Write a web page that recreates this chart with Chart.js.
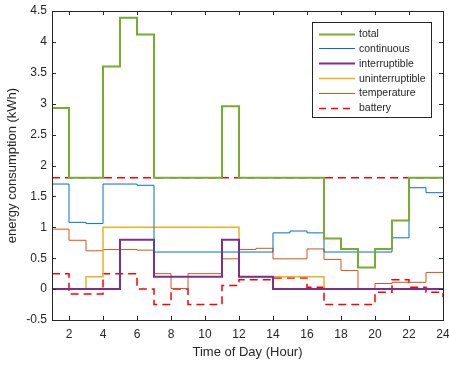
<!DOCTYPE html>
<html><head><meta charset="utf-8">
<script src="https://cdn.jsdelivr.net/npm/chart.js@4/dist/chart.umd.min.js"></script>
<style>html,body{margin:0;padding:0;background:#fff}#wrap{width:449px;height:370px}</style>
</head><body><div id="wrap"><canvas id="c" width="449" height="370"></canvas></div>
<script>
const hours = [1,2,3,4,5,6,7,8,9,10,11,12,13,14,15,16,17,18,19,20,21,22,23,24];
const total = [2.93,1.8,1.8,3.6,4.39,4.12,1.8,1.8,1.8,1.8,2.96,1.8,1.8,1.8,1.8,1.8,0.82,0.65,0.35,0.65,1.11,1.8,1.8,1.8];
const continuous = [1.7,1.08,1.06,1.7,1.7,1.68,0.6,0.6,0.6,0.6,0.6,0.6,0.6,0.91,0.94,0.91,0.6,0.6,0.6,0.6,0.83,1.64,1.56,1.56];
const interruptible = [0,0,0,0,0.8,0.8,0.2,0.2,0.2,0.2,0.8,0.2,0.2,0,0,0,0,0,0,0,0,0,0,0];
const uninterruptible = [0,0,0.2,1,1,1,1,1,1,1,1,0.2,0.2,0.2,0.2,0.2,0,0,0,0,0,0,0,0];
const temperature = [0.97,0.79,0.62,0.64,0.64,0.63,0.25,0.01,0.25,0.25,0.49,0.64,0.66,0.49,0.49,0.65,0.48,0.3,0.01,0.09,0.11,0.11,0.27,0.27];
const battery = [0.25,-0.08,-0.08,0.25,0.25,0,-0.25,0,-0.25,-0.25,0.06,0.15,0.15,0.18,0.18,0.03,-0.25,-0.25,-0.25,-0.05,0.15,0.03,-0.05,-0.13];
const limitHours = [1,24];
const limitValues = [1.8,1.8];
const xTicks = [2,4,6,8,10,12,14,16,18,20,22,24];
const seriesNames = ['total','continuous','interruptible','uninterruptible','temperature','battery'];
const xTitle = 'Time of Day (Hour)';
const yTitle = 'energy consumption (kWh)';

const colors = ['#77AC30','#0072BD','#7E2F8E','#EDB120','#D95319','#FF0000'];
const widths = [2,1,2,1.5,1,1.5];
const seriesData = [total,continuous,interruptible,uninterruptible,temperature,battery];
const pts = (xs,ys)=>xs.map((x,i)=>({x:x,y:ys[i]}));
const FONT = '"Liberation Sans", Arial, Helvetica, sans-serif';
const AX = '#262626';

const datasets = seriesData.map((d,i)=>({
  label: seriesNames[i], data: pts(hours,d), borderColor: colors[i], borderWidth: widths[i],
  stepped: 'before', pointRadius: 0, fill: false, borderDash: i===5?[8,5]:[], tension:0
}));
datasets.push({label:'limit', data: pts(limitHours,limitValues), borderColor:'#FF0000', borderWidth:1.5,
  borderDash:[8,5], pointRadius:0, fill:false, stepped:false});

const frame = {
  id:'frame',
  afterDraw(chart){
    const ctx = chart.ctx, a = chart.chartArea, xs = chart.scales.x, ys = chart.scales.y;
    ctx.save();
    ctx.strokeStyle = AX; ctx.lineWidth = 1;
    ctx.strokeRect(Math.round(a.left)+0.5, Math.round(a.top)+0.5, Math.round(a.right-a.left), Math.round(a.bottom-a.top));
    ctx.beginPath();
    const tl = 4;
    xTicks.forEach(v=>{
      const x = Math.round(xs.getPixelForValue(v))+0.5;
      ctx.moveTo(x,a.bottom); ctx.lineTo(x,a.bottom-tl);
      ctx.moveTo(x,a.top); ctx.lineTo(x,a.top+tl);
    });
    ys.ticks.forEach(t=>{
      const y = Math.round(ys.getPixelForValue(t.value))+0.5;
      ctx.moveTo(a.left,y); ctx.lineTo(a.left+tl,y);
      ctx.moveTo(a.right,y); ctx.lineTo(a.right-tl,y);
    });
    ctx.stroke();
    ctx.fillStyle = AX; ctx.font = '13px '+FONT; ctx.textAlign='center'; ctx.textBaseline='middle';
    ctx.fillText(xTitle, (a.left+a.right)/2, 352);
    ctx.translate(12,(a.top+a.bottom)/2); ctx.rotate(-Math.PI/2);
    ctx.fillText(yTitle,0,0);
    ctx.restore();
    ctx.save();
    const L=312.5,T=22.5,W=119,H=95;
    ctx.fillStyle='#fff'; ctx.fillRect(L,T,W,H);
    ctx.strokeStyle=AX; ctx.lineWidth=1; ctx.strokeRect(L,T,W,H);
    ctx.font='10.5px '+FONT; ctx.textAlign='left'; ctx.textBaseline='middle';
    seriesNames.forEach((n,i)=>{
      const y = 33.5 + i*14.9;
      ctx.beginPath(); ctx.strokeStyle=colors[i]; ctx.lineWidth=widths[i];
      ctx.setLineDash(i===5?[7,5]:[]);
      ctx.moveTo(319,Math.round(y)+0.5); ctx.lineTo(355,Math.round(y)+0.5); ctx.stroke();
      ctx.setLineDash([]);
      ctx.fillStyle=AX; ctx.fillText(n,359,y+0.5);
    });
    ctx.restore();
  }
};

new Chart(document.getElementById('c'),{
  type:'line',
  data:{datasets},
  options:{
    responsive:false, animation:false,
    layout:{padding:{left:0,right:6,top:11,bottom:0}},
    plugins:{legend:{display:false},tooltip:{enabled:false}},
    scales:{
      x:{type:'linear',min:1,max:24,
        grid:{display:false,drawTicks:false},border:{display:false},
        afterBuildTicks(s){s.ticks = xTicks.map(v=>({value:v}));},
        afterFit(s){s.height=50; s.paddingRight=0; s.paddingLeft=0;},
        ticks:{color:AX,font:{family:FONT,size:12},padding:7,maxRotation:0,autoSkip:false}
      },
      y:{type:'linear',min:-0.5,max:4.5,
        grid:{display:false,drawTicks:false},border:{display:false},
        afterFit(s){s.width=52; s.paddingTop=0; s.paddingBottom=0;},
        ticks:{stepSize:0.5,color:AX,font:{family:FONT,size:12},padding:5,callback:v=>String(v)}
      }
    }
  },
  plugins:[frame]
});
</script></body></html>
